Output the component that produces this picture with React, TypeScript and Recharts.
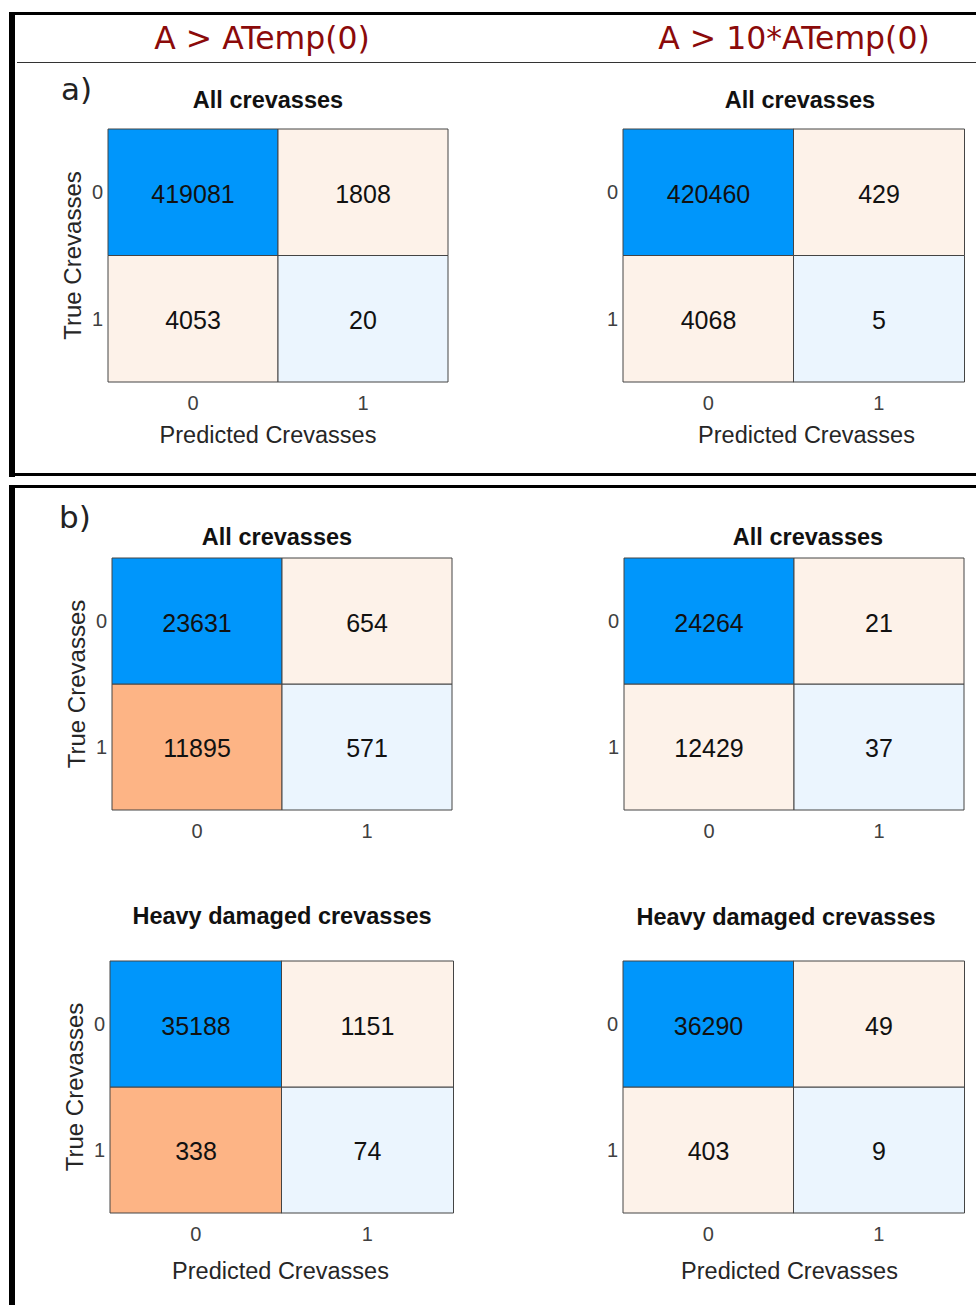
import { Bar, BarChart, Cell, Label, LabelList, XAxis, YAxis } from 'recharts'

// class labels
const predictedClasses = ['0', '1']
const trueClasses = ['0', '1']

// counts[trueClass][predictedClass]
const aAllLow = [[419081, 1808], [4053, 20]]
const aAllHigh = [[420460, 429], [4068, 5]]
const bAllLow = [[23631, 654], [11895, 571]]
const bAllHigh = [[24264, 21], [12429, 37]]
const bHeavyLow = [[35188, 1151], [338, 74]]
const bHeavyHigh = [[36290, 49], [403, 9]]

const columnHeaders = ['A > ATemp(0)', 'A > 10*ATemp(0)']
const partLabels = ['a)', 'b)']
const titleAll = 'All crevasses'
const titleHeavy = 'Heavy damaged crevasses'
const xLabel = 'Predicted Crevasses'
const yLabel = 'True Crevasses'

const BLUE = '#0096fb'
const LIGHT_BLUE = '#ebf5fe'
const PEACH = '#fdf2e9'
const ORANGE = '#fdb485'
const SANS = '"Liberation Sans", Arial, sans-serif'

type Panel = {
  counts: number[][]
  title: string
  x: number
  y: number
  w: number
  h: number
  titleX: number
  titleY: number
  yTitle: boolean
  xTitle: boolean
  xTitleDx: number
  xTitleOffset: number
  strongMiss: boolean
}

const panels: Panel[] = [
  { counts: aAllLow, title: titleAll, x: 108, y: 129, w: 340, h: 253, titleX: 268, titleY: 100, yTitle: true, xTitle: true, xTitleDx: -10, xTitleOffset: 11, strongMiss: false },
  { counts: aAllHigh, title: titleAll, x: 623, y: 129, w: 341, h: 253, titleX: 800, titleY: 100, yTitle: false, xTitle: true, xTitleDx: 13, xTitleOffset: 11, strongMiss: false },
  { counts: bAllLow, title: titleAll, x: 112, y: 558, w: 340, h: 252, titleX: 277, titleY: 537, yTitle: true, xTitle: false, xTitleDx: 0, xTitleOffset: 11, strongMiss: true },
  { counts: bAllHigh, title: titleAll, x: 624, y: 558, w: 340, h: 252, titleX: 808, titleY: 537, yTitle: false, xTitle: false, xTitleDx: 0, xTitleOffset: 11, strongMiss: false },
  { counts: bHeavyLow, title: titleHeavy, x: 110, y: 961, w: 343, h: 252, titleX: 282, titleY: 916, yTitle: true, xTitle: true, xTitleDx: -1, xTitleOffset: 6, strongMiss: true },
  { counts: bHeavyHigh, title: titleHeavy, x: 623, y: 961, w: 341, h: 252, titleX: 786, titleY: 917, yTitle: false, xTitle: true, xTitleDx: -4, xTitleOffset: 6, strongMiss: false },
]

function cellFill(row: number, col: number, strongMiss: boolean) {
  if (row === col) return row === 0 ? BLUE : LIGHT_BLUE
  if (row === 1 && col === 0 && strongMiss) return ORANGE
  return PEACH
}

const LEFT = 80
const TOP = 8

function Matrix({ p }: { p: Panel }) {
  const data = predictedClasses.map((pred, c) => ({
    pred,
    u1: 1,
    u0: 1,
    n0: p.counts[0][c],
    n1: p.counts[1][c],
  }))
  const axisH = p.xTitle ? 72 : 40
  return (
    <>
      <div
        style={{
          position: 'absolute',
          left: p.titleX - 250,
          top: p.titleY - 14,
          width: 500,
          textAlign: 'center',
          fontWeight: 'bold',
          fontSize: 23.5,
          lineHeight: '28px',
          color: '#111',
        }}
      >
        {p.title}
      </div>
      <div style={{ position: 'absolute', left: p.x - LEFT, top: p.y - TOP }}>
        <BarChart
          width={p.w + LEFT + 8}
          height={p.h + TOP + axisH}
          data={data}
          margin={{ top: TOP, right: 8, left: 10, bottom: 0 }}
          barCategoryGap={0}
          barGap={0}
        >
          <XAxis
            dataKey="pred"
            height={axisH}
            tickLine={false}
            axisLine={false}
            tickMargin={8}
            tick={{ fill: '#404040', fontSize: 20 }}
          >
            {p.xTitle && (
              <Label
                value={xLabel}
                position="insideBottom"
                offset={p.xTitleOffset}
                dx={p.xTitleDx}
                fill="#262626"
                fontSize={23.5}
              />
            )}
          </XAxis>
          <YAxis
            type="number"
            domain={[0, 2]}
            ticks={[0.5, 1.5]}
            width={70}
            tickLine={false}
            axisLine={false}
            tickSize={0}
            tickMargin={5}
            tickFormatter={(v: number) => (v > 1 ? trueClasses[0] : trueClasses[1])}
            tick={{ fill: '#404040', fontSize: 20 }}
          >
            {p.yTitle && (
              <Label
                value={yLabel}
                angle={-90}
                position="insideLeft"
                offset={34}
                fill="#262626"
                fontSize={24}
                style={{ textAnchor: 'middle' }}
              />
            )}
          </YAxis>
          <Bar dataKey="u1" stackId="m" stroke="#444" strokeWidth={1} isAnimationActive={false}>
            {data.map((d, c) => (
              <Cell key={d.pred} fill={cellFill(1, c, p.strongMiss)} />
            ))}
            <LabelList dataKey="n1" position="center" fill="#111" fontSize={25} dy={1} />
          </Bar>
          <Bar dataKey="u0" stackId="m" stroke="#444" strokeWidth={1} isAnimationActive={false}>
            {data.map((d, c) => (
              <Cell key={d.pred} fill={cellFill(0, c, p.strongMiss)} />
            ))}
            <LabelList dataKey="n0" position="center" fill="#111" fontSize={25} dy={2} />
          </Bar>
        </BarChart>
      </div>
    </>
  )
}

function Rule({ x, y, w, h, color = '#000' }: { x: number; y: number; w: number; h: number; color?: string }) {
  return <div style={{ position: 'absolute', left: x, top: y, width: w, height: h, background: color }} />
}

export default function App() {
  return (
    <div
      style={{
        position: 'absolute',
        left: 0,
        top: 0,
        width: 976,
        height: 1305,
        background: '#fff',
        fontFamily: SANS,
        overflow: 'hidden',
      }}
    >
      {/* frame */}
      <Rule x={9} y={12} w={967} h={3} />
      <Rule x={9} y={12} w={6} h={465} />
      <Rule x={17} y={62} w={959} h={1} color="#333" />
      <Rule x={9} y={473} w={967} h={3} />
      <Rule x={9} y={485} w={967} h={3} />
      <Rule x={9} y={485} w={6} h={820} />

      {/* column headers */}
      {columnHeaders.map((t, i) => (
        <div
          key={t}
          style={{
            position: 'absolute',
            left: (i === 0 ? 262 : 794) - 250,
            top: 20,
            width: 500,
            textAlign: 'center',
            fontFamily: '"DejaVu Sans", Verdana, sans-serif',
            fontSize: 31.5,
            lineHeight: '36px',
            color: '#8b0a0a',
          }}
        >
          {t}
        </div>
      ))}

      {/* part labels */}
      {partLabels.map((t, i) => (
        <div
          key={t}
          style={{
            position: 'absolute',
            left: i === 0 ? 61 : 59,
            top: i === 0 ? 71 : 499,
            fontFamily: '"DejaVu Sans", Verdana, sans-serif',
            fontSize: 31,
            lineHeight: '36px',
            color: '#222',
          }}
        >
          {t}
        </div>
      ))}

      {panels.map((p, i) => (
        <Matrix key={i} p={p} />
      ))}
    </div>
  )
}
